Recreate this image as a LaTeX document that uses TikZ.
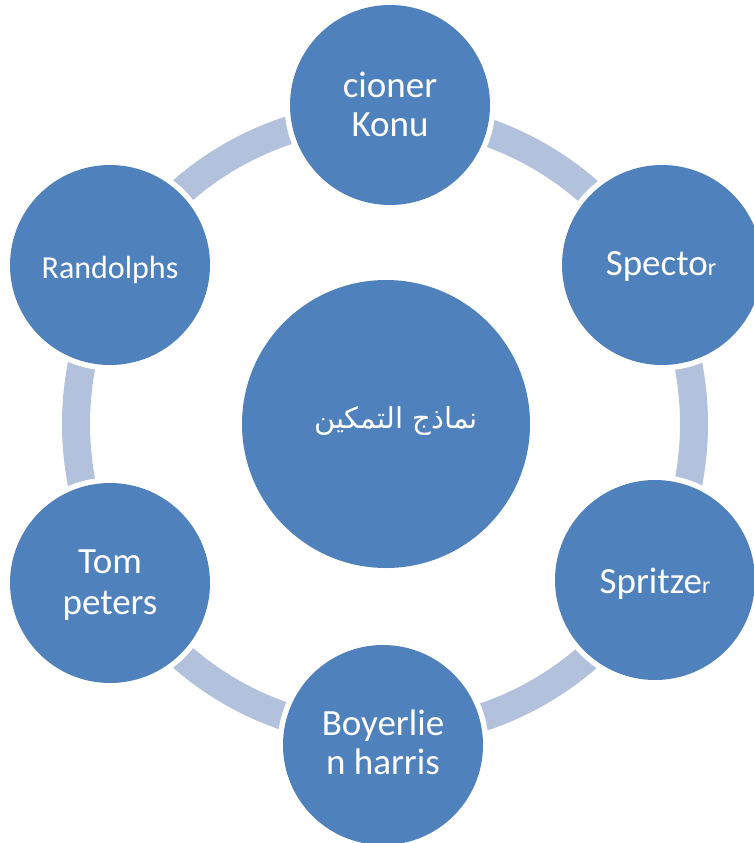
\documentclass[tikz,border=0pt]{standalone}
\usepackage{fontspec}
\setmainfont{Carlito}
\newfontfamily\arabicfont[Script=Arabic]{DejaVu Sans}
\TeXXeTstate=1
\definecolor{cblue}{HTML}{4F81BD}
\definecolor{cring}{HTML}{B3C2DC}
\begin{document}
\begin{tikzpicture}[x=1pt,y=-1pt,
  bub/.style={circle, fill=cblue, minimum size=200pt, inner sep=0pt},
  hub/.style={circle, fill=cblue, minimum size=288pt, inner sep=0pt},
  gapmask/.style={circle, fill=white, minimum size=211pt, inner sep=0pt},
  lbl/.style={text=white, anchor=base, inner sep=0pt, font=\fontsize{37}{39}\selectfont}]
\useasboundingbox (0,0) rectangle (754,843);
\coordinate (o) at (385,424);
% ring
\draw[cring, line width=28pt] (o) circle[radius=309pt];
% gaps around outer circles
\foreach \p in {(390,105),(662,265),(655,580),(383,745),(110,583),(110,265)}
  \node[gapmask] at \p {};
% circles
\node[hub] (c) at (386,424) {};
\node[bub] (n1) at (390,105) {};
\node[bub] (n2) at (662,265) {};
\node[bub] (n3) at (655,580) {};
\node[bub] (n4) at (383,745) {};
\node[bub] (n5) at (110,583) {};
\node[bub] (n6) at (110,265) {};
% labels
\node[lbl, font=\fontsize{29}{29}\selectfont\arabicfont] (ct) at (396,428) {\beginR نماذج التمكين\endR};
\node[lbl] (t1a) at (390,97) {cioner};
\node[lbl] (t1b) at (390,136) {Konu};
\node[lbl] (t2) at (661,275) {Specto{\fontsize{24}{24}\selectfont r}};
\node[lbl] (t3) at (655,593) {Spritze{\fontsize{24}{24}\selectfont r}};
\node[lbl] (t4a) at (383,735) {Boyerlie};
\node[lbl] (t4b) at (383,774) {n harris};
\node[lbl] (t5a) at (110,573) {Tom};
\node[lbl] (t5b) at (110,614) {peters};
\node[lbl, font=\fontsize{32}{32}\selectfont] (t6) at (110,278) {Randolphs};
\end{tikzpicture}
\end{document}
